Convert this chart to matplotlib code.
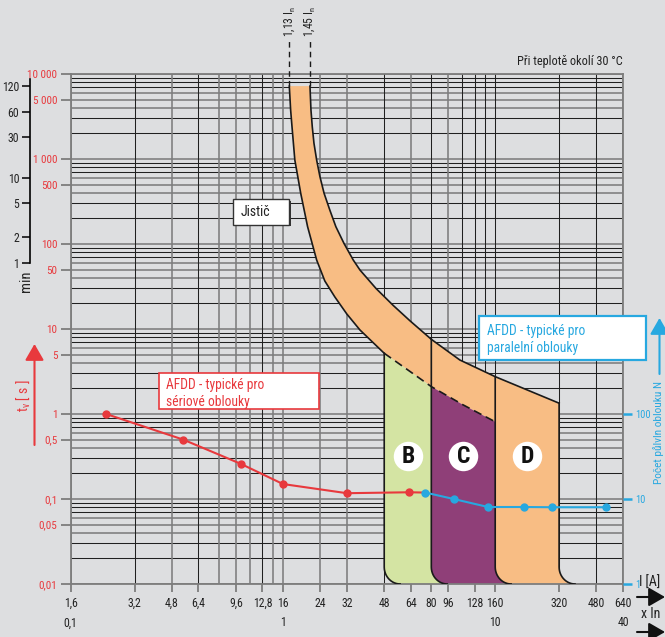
import numpy as np
import matplotlib
matplotlib.use('Agg')
import matplotlib.pyplot as plt
import matplotlib.font_manager as fm
from matplotlib.patches import Polygon, Rectangle, FancyArrowPatch
from matplotlib.ticker import NullLocator


def pick_font():
    prefs = ['Liberation Sans Narrow', 'Roboto Condensed', 'Open Sans Condensed',
             'DejaVu Sans', 'Noto Sans']
    for fam in prefs:
        for f in fm.fontManager.ttflist:
            st = f.stretch
            cond = ((isinstance(st, str) and 'condensed' in st.lower()) or
                    (isinstance(st, (int, float)) and st < 500) or
                    'Narrow' in f.name or 'Condensed' in f.name)
            if f.name == fam and cond:
                return fam, True
    return 'Liberation Sans', False


FAMILY, CONDENSED = pick_font()
plt.rcParams['font.family'] = [FAMILY, 'DejaVu Sans']
if CONDENSED:
    plt.rcParams['font.stretch'] = 'condensed'
plt.rcParams['mathtext.default'] = 'regular'

# ---------------- data ----------------
I_MIN, I_MAX = 1.6, 640.0          # current range [A]
T_MIN, T_MAX = 0.01, 10000.0       # time range [s]
HALF_WAVES_PER_S = 100             # 50 Hz -> 100 half-waves per second

t_ticks = [0.01, 0.05, 0.1, 0.5, 1, 5, 10, 50, 100, 500, 1000, 5000, 10000]
t_tick_labels = ['0,01', '0,05', '0,1', '0,5', '1', '5', '10', '50', '100',
                 '500', '1 000', '5 000', '10 000']
min_ticks = [1, 2, 5, 10, 30, 60, 120]
min_tick_labels = ['1', '2', '5', '10', '30', '60', '120']
i_ticks = [1.6, 3.2, 4.8, 6.4, 9.6, 12.8, 16, 24, 32, 48, 64, 80, 96, 128,
           160, 320, 480, 640]
i_tick_labels = ['1,6', '3,2', '4,8', '6,4', '9,6', '12,8', '16', '24', '32',
                 '48', '64', '80', '96', '128', '160', '320', '480', '640']
xin_ticks = [1.6, 16, 160, 640]
xin_labels = ['0,1', '1', '10', '40']
n_ticks = [1, 10, 100]
n_tick_labels = ['1', '10', '100']

grid_currents = [1.6, 3.2, 4.8, 6.4, 8, 9.6, 11.2, 12.8, 14.4, 16, 24, 32, 48,
                 64, 80, 96, 112, 128, 144, 160, 320, 480, 640]
grid_currents_dark = [3.2, 6.4, 12.8, 48, 80, 112, 128, 144, 160, 320, 480]
grid_mult_gray = [1, 4, 5, 6]

# circuit breaker (Jistic) band
band_top_t = 7200
upper_I = [21.45, 21.68, 21.99, 22.4, 23.06, 23.9, 25.0, 26.6, 28.4, 31.0, 34.3,
           36.9, 43.9, 52.9, 63.4, 80, 109, 160, 320]
upper_t = [7200, 3772, 2399, 1530, 973, 619, 395, 251, 160, 102, 64.8,
           49.4, 30.0, 18.95, 12.52, 7.56, 4.32, 2.75, 1.34]
lower_I = [17.14, 17.39, 17.65, 18.2, 19.4, 20.9, 23.06, 25.2, 28.1, 32.0, 36.9, 48]
lower_t = [7200, 3772, 2399, 973, 395, 160, 64.8, 36.7, 23.8, 15.0, 9.73, 5.18]
dashed_I = [48, 62, 80, 113, 160]
dashed_t = [5.18, 3.3, 2.1, 1.28, 0.81]

zone_names = ['B', 'C', 'D']
zone_edges = [48, 80, 160, 320]
zone_label_t = 0.32

# AFDD series
red_I = [2.35, 5.42, 10.1, 16, 32, 63]
red_t = [1.0, 0.5, 0.26, 0.15, 0.117, 0.12]
blue_I = [75, 102, 148, 219, 295, 535]
blue_N = [11.9, 10, 8.05, 8.05, 8, 8]

# ---------------- style ----------------
W, H, DPI = 665, 637, 100
BG = '#dddee0'
RED = '#e8393d'
BLUE = '#27a8e0'
ORANGE = '#f8bd84'
GREEN = '#d4e4a3'
PURPLE = '#8f3f78'
GRID_GRAY = '#7d7d7d'
GRID_DARK = '#202020'
TXT = '#222222'
FOOT_RU, FOOT_RV = 0.075, 0.2   # rounding of zone feet (decades)
F = 1.0 if CONDENSED else 0.92   # font scale

fig = plt.figure(figsize=(W / DPI, H / DPI), dpi=DPI, facecolor=BG)


def fx(px):
    return px / W


def fy(py):
    return 1 - py / H


AX_L, AX_R, AX_T, AX_B = 70.7, 623, 74, 584
rect = [fx(AX_L), fy(AX_B), fx(AX_R) - fx(AX_L), fy(AX_T) - fy(AX_B)]
ax = fig.add_axes(rect)
ax.set_facecolor(BG)
ax.set_xscale('log')
ax.set_yscale('log')
ax.set_xlim(I_MIN, I_MAX)
ax.set_ylim(T_MIN, T_MAX)
for s in ax.spines.values():
    s.set_color(GRID_GRAY)
    s.set_linewidth(1.3)

# grid
for d in range(-2, 5):
    for k in range(1, 10):
        v = k * 10.0 ** d
        if T_MIN <= v <= T_MAX:
            gray = k in grid_mult_gray
            ax.axhline(v, color=GRID_GRAY if gray else GRID_DARK,
                       lw=1.15 if gray else 0.75, zorder=1)
for c in grid_currents:
    dark = c in grid_currents_dark
    ax.axvline(c, color=GRID_DARK if dark else GRID_GRAY,
               lw=0.75 if dark else 1.15, zorder=1)


def foot(i0, reverse=False, n=14):
    th = np.linspace(0, np.pi / 2, n)
    u = np.log10(i0) + FOOT_RU * (1 - np.cos(th))
    v = np.log10(T_MIN) + FOOT_RV * (1 - np.sin(th))
    pts = list(zip(10 ** u, 10 ** v))
    return pts[::-1] if reverse else pts


# orange band incl. zone D
d_left, d_right = zone_edges[2], zone_edges[3]
band = list(zip(upper_I, upper_t))
band += foot(d_right)
band += foot(d_left, reverse=True)
band += list(zip(dashed_I, dashed_t))[::-1]
band += list(zip(lower_I, lower_t))[::-1]
ax.add_patch(Polygon(band, closed=True, fc=ORANGE, ec='none', zorder=2))

# zones B, C
for a, b, col in [(zone_edges[0], zone_edges[1], GREEN),
                  (zone_edges[1], zone_edges[2], PURPLE)]:
    top = [(i, t) for i, t in zip(dashed_I, dashed_t) if a <= i <= b]
    poly = top + foot(b) + foot(a, reverse=True)
    ax.add_patch(Polygon(poly, closed=True, fc=col, ec='none', zorder=2))

LW = 1.2
EC = '#1a1a1a'
ax.plot(upper_I, upper_t, color=EC, lw=LW, zorder=4, solid_joinstyle='round')
ax.plot(lower_I, lower_t, color=EC, lw=LW, zorder=4, solid_joinstyle='round')
ax.plot(dashed_I, dashed_t, color=EC, lw=LW, ls=(0, (5, 3)), zorder=4)
for i, e in enumerate(zone_edges):
    top_t = dashed_t[0] if i == 0 else upper_t[upper_I.index(e)]
    pts = [(e, top_t)] + foot(e)
    xs, ys = zip(*pts)
    ax.plot(xs, ys, color=EC, lw=LW, zorder=4)

# 1,13 In / 1,45 In dashed markers
for c, lab in [(lower_I[0], '1,13 I$_n$'), (upper_I[0], '1,45 I$_n$')]:
    ax.plot([c, c], [band_top_t, 25000], color=EC, lw=1.0,
            ls=(0, (4, 3)), clip_on=False, zorder=4)
    ax.text(c, 27000, lab, rotation=90, ha='center', va='bottom', fontsize=8.5 * F,
            color=TXT, clip_on=False)

# zone labels
for k, name in enumerate(zone_names):
    xc = np.sqrt(zone_edges[k] * zone_edges[k + 1])
    ax.scatter([xc], [zone_label_t], s=450, color='white', zorder=5, lw=0)
    ax.text(xc, zone_label_t, name, ha='center', va='center', fontsize=17 * F,
            fontweight='bold', color='#111111', zorder=6)

# red series
ax.plot(red_I, red_t, color=RED, lw=1.5, marker='o', ms=5, zorder=6)

# ticks main
ax.set_yticks(t_ticks, t_tick_labels)
ax.yaxis.set_minor_locator(NullLocator())
ax.tick_params(axis='y', which='major', length=7.2, width=1.3, color=GRID_GRAY,
               labelcolor=RED, labelsize=8 * F, pad=2.5, right=False)
ax.set_xticks(i_ticks, i_tick_labels)
ax.xaxis.set_minor_locator(NullLocator())
ax.tick_params(axis='x', which='major', length=5.5, width=1.3, color=GRID_GRAY,
               labelcolor=TXT, labelsize=8.5 * F, pad=4, top=False)

# N axis (right)
axN = ax.twinx()
axN.set_yscale('log')
axN.set_ylim(T_MIN * HALF_WAVES_PER_S, T_MAX * HALF_WAVES_PER_S)
for s in axN.spines.values():
    s.set_visible(False)
axN.set_yticks(n_ticks, n_tick_labels)
axN.yaxis.set_minor_locator(NullLocator())
axN.tick_params(axis='y', which='major', length=6.5, width=1.8, color=BLUE,
                labelcolor=BLUE, labelsize=7.5 * F, pad=2)
axN.plot([red_I[-1], blue_I[0]], [red_t[-1] * HALF_WAVES_PER_S, blue_N[0]],
         color=RED, lw=1.5, zorder=5)
axN.plot(blue_I, blue_N, color=BLUE, lw=1.5, marker='o', ms=5, zorder=6)

# x In secondary axis
sec = ax.secondary_xaxis(-0.058)
sec.set_xticks(xin_ticks, xin_labels)
sec.xaxis.set_minor_locator(NullLocator())
sec.tick_params(length=0, labelsize=8.5 * F, labelcolor=TXT, pad=2)
sec.spines['bottom'].set_visible(False)

# min axis (left)
axm = fig.add_axes(rect)
axm.set_yscale('log')
axm.set_ylim(T_MIN / 60, T_MAX / 60)
axm.patch.set_visible(False)
axm.set_xticks([])
for k in ['top', 'right', 'bottom']:
    axm.spines[k].set_visible(False)
axm.spines['left'].set_position(('axes', (30 - AX_L) / (AX_R - AX_L)))
axm.spines['left'].set_bounds(1, 145)
axm.spines['left'].set_linewidth(1.2)
axm.set_yticks(min_ticks, min_tick_labels)
axm.yaxis.set_minor_locator(NullLocator())
axm.tick_params(axis='y', length=5.8, width=1.1, labelsize=8.5 * F,
                labelcolor=TXT, pad=2)


# ---------------- annotations ----------------
def box(x0, y0, x1, y1, ec, lw):
    fig.patches.append(Rectangle((fx(x0), fy(y1)), fx(x1) - fx(x0), fy(y0) - fy(y1),
                                 transform=fig.transFigure, fc='white', ec=ec, lw=lw,
                                 zorder=5))


def arrow(p0, p1, col):
    fig.patches.append(FancyArrowPatch((fx(p0[0]), fy(p0[1])), (fx(p1[0]), fy(p1[1])),
                                       transform=fig.transFigure,
                                       arrowstyle='-|>,head_length=4.5,head_width=2.6',
                                       color=col, lw=1.5, mutation_scale=2.2,
                                       shrinkA=0, shrinkB=0))


# Jistic
fig.patches.append(Rectangle((fx(235), fy(226.5)), fx(56), 25.4 / H,
                             transform=fig.transFigure, fc='#333333', ec='none', zorder=4))
box(233.3, 199.3, 289.3, 224.7, '#333333', 1.0)
fig.text(fx(240.5), fy(212), 'Jistič', fontsize=10 * F, color=TXT, va='center',
         ha='left', zorder=6)

box(159, 373.3, 319.3, 409.3, RED, 1.2)
fig.text(fx(166), fy(385), 'AFDD - typické pro', fontsize=9.8 * F, color=RED,
         va='center', zorder=6)
fig.text(fx(166), fy(402), 'sériové oblouky', fontsize=9.8 * F, color=RED,
         va='center', zorder=6)

box(479, 315.7, 646, 360, BLUE, 1.6)
fig.text(fx(486.5), fy(331), 'AFDD - typické pro', fontsize=9.8 * F, color=BLUE,
         va='center', zorder=6)
fig.text(fx(486.5), fy(348), 'paralelní oblouky', fontsize=9.8 * F, color=BLUE,
         va='center', zorder=6)

fig.text(fx(622.5), fy(62), 'Při teplotě okolí 30 °C', fontsize=8.8 * F, color=TXT,
         ha='right', va='center')

fig.text(fx(26), fy(281), 'min', rotation=90, fontsize=10.5 * F, color=TXT,
         ha='center', va='center')
fig.text(fx(23), fy(396), 't$_v$ [ s ]', rotation=90, fontsize=10 * F, color=RED,
         ha='center', va='center')
arrow((34.5, 445), (34.5, 344), RED)

fig.text(fx(659), fy(432), 'Počet půlvln oblouku N', rotation=90, fontsize=8.2 * F,
         color=BLUE, ha='center', va='center')
arrow((659.5, 374), (659.5, 318), BLUE)

fig.text(fx(639), fy(583), 'I [A]', fontsize=10 * F, color=TXT, ha='left', va='center')
arrow((637, 597), (665, 597), '#111111')
fig.text(fx(641), fy(614), 'x In', fontsize=10 * F, color=TXT, ha='left', va='center')
arrow((637, 632), (665, 632), '#111111')

fig.savefig('out.png', dpi=DPI, facecolor=BG)
